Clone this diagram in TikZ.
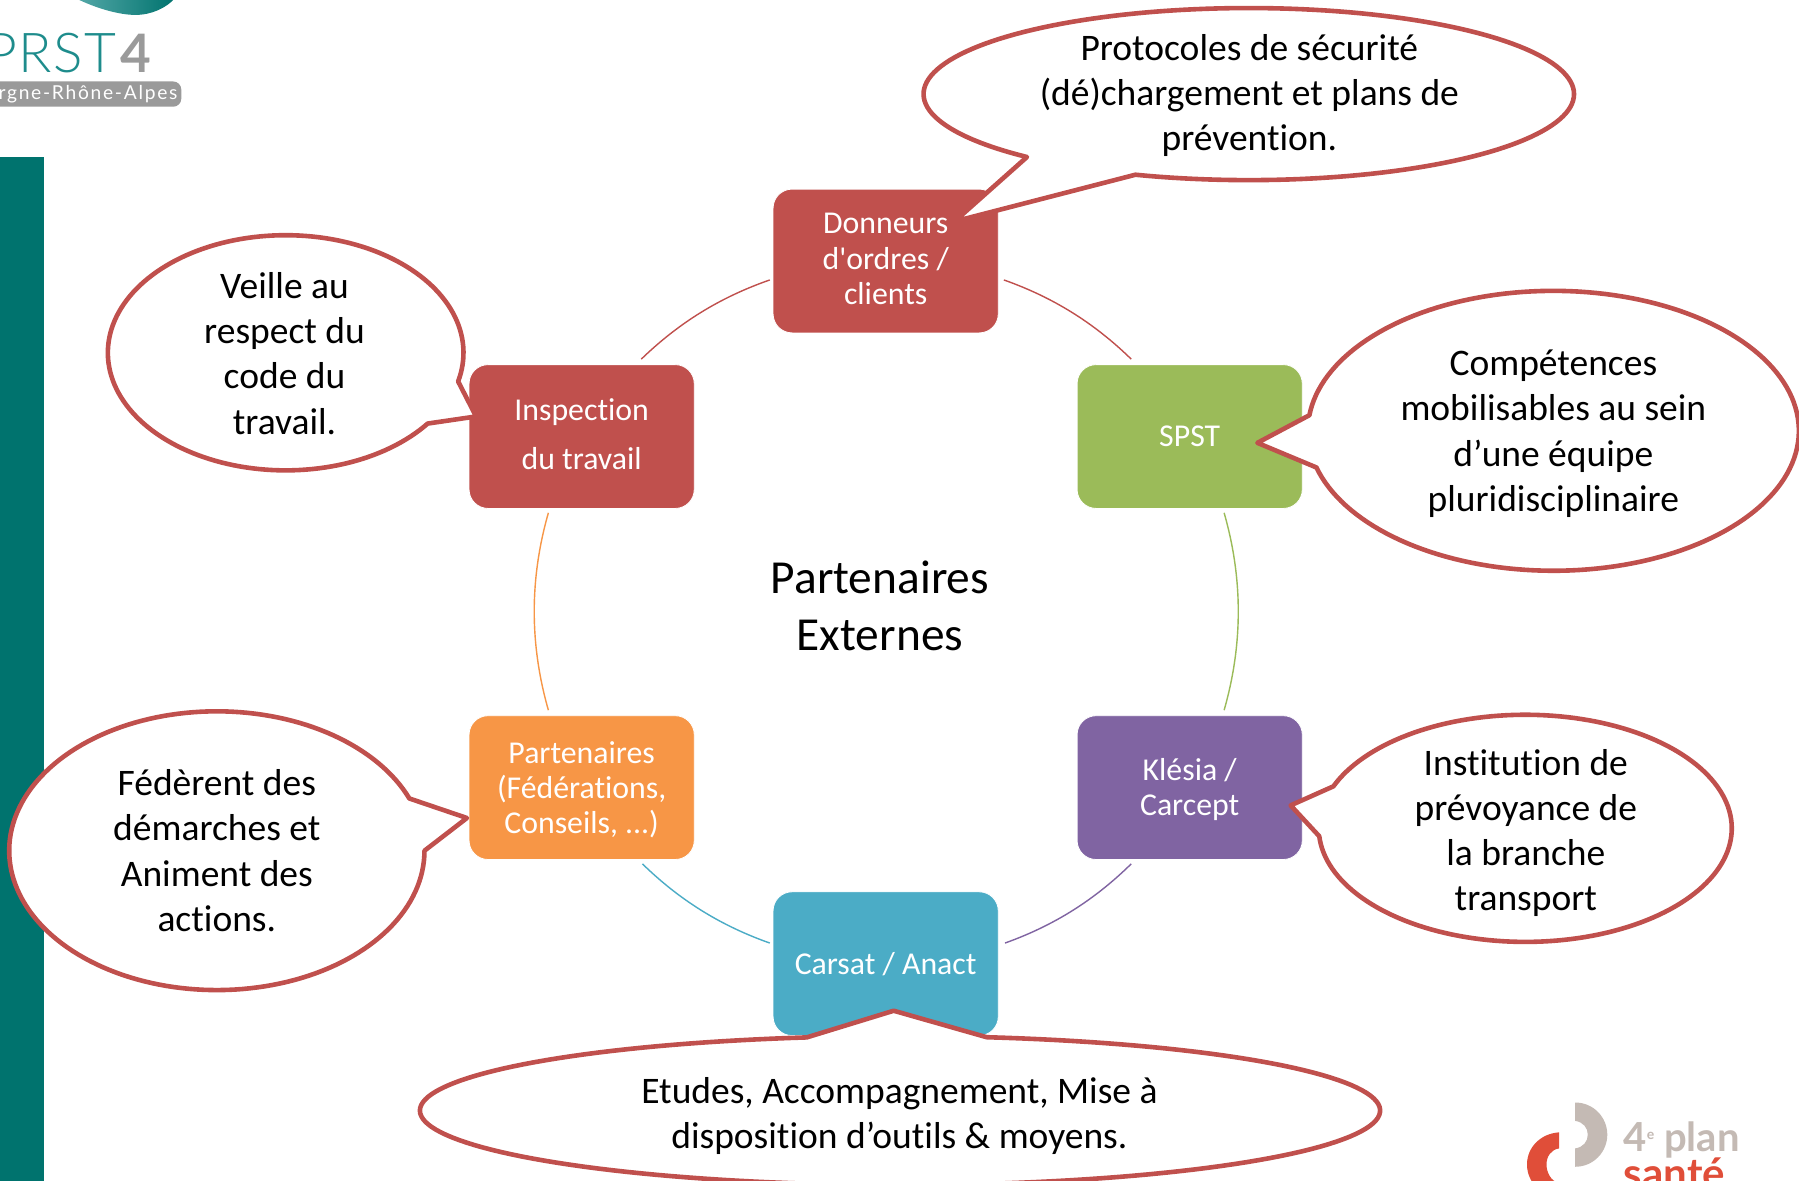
\documentclass[tikz,border=0pt]{standalone}
\usepackage{fontspec}
\setmainfont{Carlito}[Ligatures={TeX,NoCommon}]
\newfontfamily\boxfont{Carlito}[Ligatures=NoCommon]
\newfontfamily\logofont{Lato}
\newfontfamily\logothin[LetterSpace=3]{Lato Light}
\newfontfamily\logospaced[LetterSpace=9]{Lato}
\definecolor{cred}{HTML}{C0504D}
\definecolor{cgreen}{HTML}{9BBB59}
\definecolor{cpurple}{HTML}{8064A2}
\definecolor{cblue}{HTML}{4BACC6}
\definecolor{corange}{HTML}{F79646}
\definecolor{cbar}{HTML}{00736E}
\definecolor{logoteal}{HTML}{1E8C8C}
\definecolor{logogray}{HTML}{9A9A9A}
\definecolor{plangray}{HTML}{C4BAB4}
\definecolor{planred}{HTML}{E04E39}
\tikzset{
  boxnode/.style={rectangle,rounded corners=9.5pt,draw=white,line width=0.4pt,text=white,
    minimum width=112.6pt,minimum height=71.9pt,inner sep=0pt,align=center,
    font=\boxfont\fontsize{15.9}{17.6}\selectfont},
  bub/.style={draw=cred,fill=white,line width=2.3pt,line join=round},
  bubtext/.style={align=center,inner sep=0pt,text=black,font=\fontsize{18.75}{22.6}\selectfont},
  link/.style={line width=0.7pt,bend left=#1,looseness=0.89},
  link/.default=12.4
}
\newcommand\bubble[8]{\draw[bub] plot[domain=#5:#6,samples=160] ({#1+#3*cos(\x)},{#2+#4*sin(\x)}) -- (#7,#8) -- cycle;}
\newcommand\lift[2]{\raisebox{#1}[\height][\depth]{\begin{tabular}{@{}c@{}}#2\end{tabular}}}
\begin{document}
\begin{tikzpicture}[x=0.57365pt,y=-0.57365pt]
\path[use as bounding box,fill=white] (0,0) rectangle (1568.1,1029.3);
\clip (0,0) rectangle (1568.1,1029.3);
% side bar
\fill[cbar] (0,137) rectangle (38,1029.3);
% top-left logo
\shade[left color=logoteal!75!white,right color=cbar] (65,-2) .. controls (85,8) and (105,13) .. (118,13) .. controls (132,13) and (145,7) .. (153,-2) -- cycle;
\node[anchor=base east,inner sep=0pt,text=logoteal,font=\logothin\fontsize{27.5}{30}\selectfont] (prst) at (102,63) {PRST};
\node[anchor=base west,inner sep=0pt,text=logogray,font=\logofont\bfseries\fontsize{26.5}{30}\selectfont] (quatre) at (105,63) {4};
\fill[logogray,rounded corners=4pt] (-10,71) rectangle (158,93);
\node[anchor=east,inner sep=0pt,text=white,font=\logospaced\fontsize{9.6}{11}\selectfont] (region) at (155,82.5) {rgne-Rhône-Alpes};
% bottom-right logo
\fill[plangray] (1373,961) .. controls (1389,961) and (1401,974) .. (1401,989) .. controls (1401,1004) and (1389,1017) .. (1373,1017) -- (1373,1001) .. controls (1380,1000) and (1384,995) .. (1384,989) .. controls (1384,983) and (1380,978) .. (1373,977) -- cycle;
\fill[planred] (1359,987) .. controls (1343,988) and (1331,1000) .. (1331,1015) .. controls (1331,1030) and (1343,1043) .. (1359,1043) -- (1359,1031) .. controls (1352,1030) and (1348,1022) .. (1348,1015) .. controls (1348,1008) and (1352,1002) .. (1359,1001) -- cycle;
\node[anchor=base west,inner sep=0pt,text=plangray,font=\logofont\bfseries\fontsize{20}{24}\selectfont] (plan) at (1415,1004) {4\raisebox{6pt}{\fontsize{7}{8}\selectfont e} plan};
\node[anchor=base west,inner sep=0pt,text=planred,font=\logofont\bfseries\fontsize{21}{24}\selectfont] (sante) at (1415,1036) {santé};
% boxes
\node[boxnode,fill=cred] (don) at (772,227.5) {\lift{-0.5pt}{Donneurs\\d'ordres /\\clients}};
\node[boxnode,fill=cgreen] (spst) at (1037,380.5) {SPST};
\node[boxnode,fill=cpurple] (kle) at (1037,686.5) {\lift{-1.7pt}{Klésia /\\Carcept}};
\node[boxnode,fill=cblue] (car) at (772,840) {Carsat / Anact};
\node[boxnode,fill=corange] (par) at (507,686.5) {\lift{-1.8pt}{Partenaires\\(Fédérations,\\Conseils, ...)}};
\node[boxnode,fill=cred,font=\boxfont\fontsize{15.9}{24.6}\selectfont] (ins) at (507,380.5) {\lift{0.5pt}{Inspection\\du travail}};
% connector ends
\coordinate (a1) at (875,244); \coordinate (a2) at (986,313);
\coordinate (b1) at (1067,447); \coordinate (b2) at (1067,619);
\coordinate (c1) at (986,753); \coordinate (c2) at (876,822);
\coordinate (d1) at (671,822); \coordinate (d2) at (560,753);
\coordinate (e1) at (478,619); \coordinate (e2) at (478,447);
\coordinate (f1) at (559,313); \coordinate (f2) at (671,244);
\draw[link,draw=cred] (a1) to (a2);
\draw[link=16,draw=cgreen] (b1) to (b2);
\draw[link,draw=cpurple] (c1) to (c2);
\draw[link,draw=cblue] (d1) to (d2);
\draw[link=16,draw=corange] (e1) to (e2);
\draw[link,draw=cred] (f1) to (f2);
% centre title
\node[align=center,inner sep=0pt,font=\fontsize{23.7}{28.7}\selectfont] (titre) at (767,528) {Partenaires\\Externes};
% callouts
\bubble{1088.5}{82}{283.5}{75}{133}{470.4}{832}{193}
\node[bubtext] (t1) at (1089,83.5) {Protocoles de sécurité\\(dé)chargement et plans de\\prévention.};
\bubble{1354}{375.5}{214}{122}{186.4}{524.8}{1096}{386}
\node[bubtext] (t2) at (1354,378) {Compétences\\mobilisables au sein\\d’une équipe\\pluridisciplinaire};
\bubble{249}{307.5}{155}{102.5}{37}{374.1}{415}{363}
\node[bubtext] (t3) at (248,308) {Veille au\\respect du\\code du\\travail.};
\bubble{1329.5}{722}{180}{99}{201.7}{536}{1125}{702}
\node[bubtext] (t4) at (1330,726) {Institution de\\prévoyance de\\la branche\\transport};
\bubble{189}{741.5}{181}{121.5}{0}{338}{407}{713}
\node[bubtext] (t5) at (189,741.5) {Fédèrent des\\démarches et\\Animent des\\actions.};
\bubble{784.5}{968}{418.5}{65}{280.4}{618.8}{779}{881}
\node[bubtext] (t6) at (784,973) {Etudes, Accompagnement, Mise à\\disposition d’outils \& moyens.};
\end{tikzpicture}
\end{document}
